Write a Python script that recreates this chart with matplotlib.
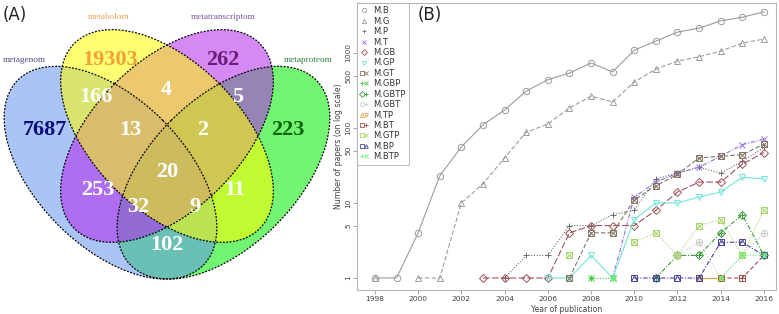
import numpy as np
import matplotlib
matplotlib.use("Agg")
import matplotlib.pyplot as plt
from matplotlib.patches import Ellipse
from matplotlib.lines import Line2D
from matplotlib.legend_handler import HandlerTuple

nan = np.nan
# ---------------- data ----------------
set_names = ["metagenom", "metabolom", "metatranscriptom", "metaproteom"]
region_counts = {"G": 7687, "B": 19303, "T": 262, "P": 223,
                 "GB": 166, "BT": 4, "TP": 5, "GBT": 13, "BTP": 2,
                 "GBTP": 20, "GT": 253, "BP": 11, "GTP": 32, "GBP": 9, "GP": 102}

years = list(range(1998, 2017))
series_names = ["M.B", "M.G", "M.P", "M.T", "M.GB", "M.GP", "M.GT", "M.GBP",
                "M.GBTP", "M.GBT", "M.TP", "M.BT", "M.GTP", "M.BP", "M.BTP"]
#            1998 1999 2000 2001 2002 2003 2004 2005 2006 2007 2008 2009 2010 2011 2012 2013 2014 2015 2016
M_B    = [1, 1, 4, 23, 56, 110, 174, 310, 440, 540, 735, 560, 1090, 1440, 1900, 2140, 2680, 3000, 3530]
M_G    = [1, nan, 1, 1, 10, 18, 40, 88, 113, 185, 266, 222, 410, 610, 780, 890, 1060, 1360, 1530]
M_P    = [nan, nan, nan, nan, nan, nan, 1, 2, 2, 5, 5, 7, 8, 21, 25, 30, 25, 36, 55]
M_T    = [nan, nan, nan, nan, nan, nan, nan, nan, nan, nan, nan, 1, 12, 19, 25, 30, 42, 60, 71]
M_GB   = [nan, nan, nan, nan, nan, 1, 1, 1, 1, 4, 5, 5, 5, 8, 14, 19, 19, 33, 47]
M_GP   = [nan, nan, nan, nan, nan, nan, nan, nan, 1, 1, 2, 1, 6, 10, 10, 12, 14, 22, 21]
M_GT   = [nan, nan, nan, nan, nan, nan, nan, nan, nan, 1, 4, 4, 11, 17, 24, 40, 42, 44, 61]
M_GBP  = [nan, nan, nan, nan, nan, nan, nan, nan, nan, nan, 1, 1, nan, nan, nan, nan, nan, nan, 2]
M_GBTP = [nan, nan, nan, nan, nan, nan, nan, nan, nan, nan, nan, nan, nan, 1, 2, 2, 4, 7, 2]
M_GBT  = [nan, nan, nan, nan, nan, nan, nan, nan, nan, nan, nan, nan, nan, nan, 2, 3, 1, 2, 4]
M_TP   = [nan, nan, nan, nan, nan, nan, nan, nan, nan, nan, nan, nan, nan, nan, nan, 1, 1, nan, nan]
M_BT   = [nan, nan, nan, nan, nan, nan, nan, nan, nan, nan, nan, nan, nan, nan, nan, nan, 1, 1, 2]
M_GTP  = [nan, nan, nan, nan, nan, nan, nan, nan, nan, 2, nan, nan, 3, 4, 2, 5, 6, 2, 8]
M_BP   = [nan, nan, nan, nan, nan, nan, nan, nan, nan, nan, nan, nan, 1, 1, 1, 1, 3, 3, 2]
M_BTP  = [nan, nan, nan, nan, nan, nan, nan, nan, nan, nan, nan, 1, nan, nan, nan, nan, 1, 2, 2]
series_values = [M_B, M_G, M_P, M_T, M_GB, M_GP, M_GT, M_GBP, M_GBTP, M_GBT,
                 M_TP, M_BT, M_GTP, M_BP, M_BTP]
y_ticks = [1, 5, 10, 50, 100, 500, 1000]
x_ticks = list(range(1998, 2017, 2))

# ---------------- styles ----------------
colors = ["#9c9c9c", "#9c9c9c", "#707070", "#9370DB", "#A0525A", "#72E6D6", "#857565",
          "#3CCB3C", "#3A9A3A", "#C8C8C8", "#E0A040", "#A05050", "#A8D468", "#4545A0", "#70F070"]
styles = ["-", (0, (4, 2)), (0, (1, 1.5)), (0, (4, 1.5, 1, 1.5)), (0, (6, 2)), "-",
          (0, (4, 2)), (0, (1, 1.5)), (0, (4, 1.5, 1, 1.5)), (0, (1, 1.5)), "-",
          (0, (4, 2)), (0, (1, 1.5)), (0, (4, 1.5, 1, 1.5)), (0, (1, 1.5))]
markers = [["o"], ["^"], ["+"], ["x"], ["D"], ["v"], ["s", "x"], ["+", "x"],
           ["D", "+"], ["o", "+"], ["^", "v"], ["s", "+"], ["s", "x"], ["s", "^"], ["+", "x"]]

W, H = 779, 314
fig = plt.figure(figsize=(W / 100, H / 100), dpi=100)

# ---------------- Venn (A) ----------------
axv = fig.add_axes([0, 0, 352 / W, 1])
axv.set_xlim(0, 352)
axv.set_ylim(H, 0)
axv.axis("off")
a, b = 131, 74
ell = {  # name: (cx, cy, angle, color)
    "metaproteom": (223.5, 172.7, -45, "#00EE00"),
    "metagenom": (110.5, 172.7, 45, "#6495ED"),
    "metatranscriptom": (167, 136, -45, "#B428EB"),
    "metabolom": (167, 136, 45, "#FFFF00"),
}
for name in ["metaproteom", "metagenom", "metatranscriptom", "metabolom"]:
    cx, cy, ang, col = ell[name]
    axv.add_patch(Ellipse((cx, cy), 2 * a, 2 * b, angle=ang, facecolor=col,
                          alpha=0.55, edgecolor="none"))
for name in ell:
    cx, cy, ang, col = ell[name]
    axv.add_patch(Ellipse((cx, cy), 2 * a, 2 * b, angle=ang, facecolor="none",
                          edgecolor="black", lw=0.9, linestyle=(0, (1.5, 1.2))))

serif = "Liberation Serif"
pos = {"G": (45, 130), "B": (110, 60), "T": (223, 60), "P": (288, 130),
       "GB": (96, 97), "BT": (166, 90), "TP": (238, 97), "GBT": (130, 130),
       "BTP": (203, 130), "GBTP": (167, 172), "GT": (98, 190), "BP": (235, 190),
       "GTP": (138, 207), "GBP": (195, 207), "GP": (167, 245)}
num_col = {"G": "#0B0B7A", "B": "#F3A033", "T": "#6A1C78", "P": "#0A640A"}
for k, (x, y) in pos.items():
    axv.text(x, y, str(region_counts[k]), ha="center", va="center", family=serif,
             weight="bold", fontsize=16, color=num_col.get(k, "white"))
set_pos = [(24, 60), (109, 17), (223, 17), (308, 60)]
set_col = ["#4A4A80", "#F0A050", "#7A50A0", "#2E7A3E"]
for nm, (x, y), c in zip(set_names, set_pos, set_col):
    axv.text(x, y, nm, ha="center", va="center", family=serif, fontsize=6.6, color=c)
axv.text(3, 15, "(A)", ha="left", va="center", fontsize=12, color="#222222")

# ---------------- Line chart (B) ----------------
ax = fig.add_axes([357 / W, 24 / H, 419 / W, 287 / H])
ax.set_yscale("log")
ax.set_xlim(1997.17, 2016.56)
ax.set_ylim(10 ** (-12 / 75), 10 ** (275 / 75))
handles = []
for name, vals, col, ls, mk in zip(series_names, series_values, colors, styles, markers):
    v = np.array(vals, dtype=float)
    ms = 4.6
    ax.plot(years, v, color=col, lw=0.8, linestyle=ls, marker=mk[0],
            ms=ms * (0.85 if mk[0] == "D" else 1), mfc="none", mec=col, mew=0.7)
    hs = [Line2D([], [], color=col, ls="none", marker=mk[0], ms=3.0, mfc="none", mew=0.6)]
    for m2 in mk[1:]:
        ax.plot(years, v, ls="none", marker=m2, ms=ms * 0.85, mfc="none", mec=col, mew=0.7)
        hs.append(Line2D([], [], color=col, ls="none", marker=m2, ms=2.6, mfc="none", mew=0.6))
    handles.append(tuple(hs))

leg = ax.legend(handles, series_names, loc="upper left", bbox_to_anchor=(0, 1),
                borderaxespad=0, fontsize=6, labelspacing=0.17, handlelength=0.9,
                handletextpad=0.6, borderpad=0.4, frameon=True, fancybox=False,
                handler_map={tuple: HandlerTuple(ndivide=None, pad=0)})
leg.get_frame().set_edgecolor("#b0b0b0")
leg.get_frame().set_linewidth(0.8)
for t in leg.get_texts():
    t.set_color("#333333")

ax.set_yticks(y_ticks)
ax.set_yticklabels([str(t) for t in y_ticks], rotation=90, va="center")
ax.minorticks_off()
ax.set_xticks(x_ticks)
ax.set_xticklabels([str(t) for t in x_ticks])
ax.tick_params(labelsize=5.4, length=3, width=0.6, color="#999999", labelcolor="#444444", pad=1.0)
for s in ax.spines.values():
    s.set_color("#b8b8b8")
    s.set_linewidth(0.8)
ax.set_ylabel("Number of papers (on log scale)", fontsize=5.6, color="#444444", labelpad=2)
fig.text(567 / W, 1 - 309.5 / H, "Year of publication", ha="center", va="center",
         fontsize=5.5, color="#444444")
fig.text(418 / W, 1 - 15 / H, "(B)", ha="left", va="center", fontsize=12, color="#222222")

fig.savefig("out.png", dpi=100)
